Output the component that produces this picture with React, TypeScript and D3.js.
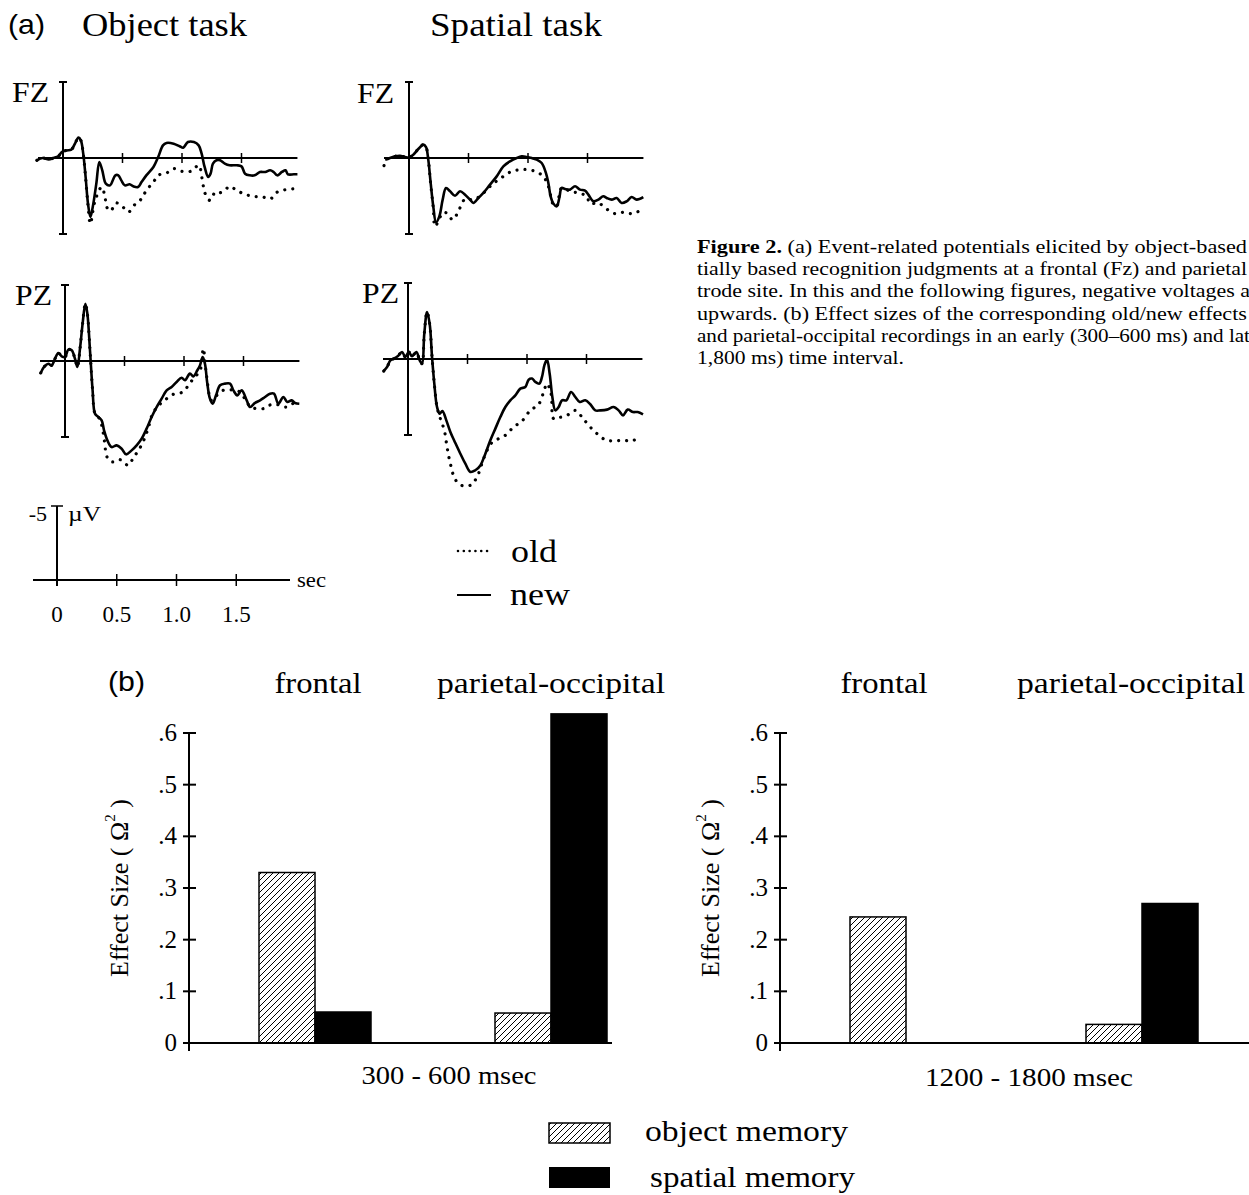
import React, { useEffect, useRef } from "react";
import * as d3 from "d3";

type Pt = [number, number]; // [time in s, voltage in µV] (negative plotted up)

// ---- (a) ERP traces ----
const objFzNew: Pt[] = [
  [-0.22, 0.15], [-0.17, 0], [-0.12, 0.09], [-0.08, 0], [-0.04, -0.11], [-0.01, -0.39], [0.03, -0.5],
  [0.07, -0.55], [0.1, -0.94], [0.13, -1.34], [0.15, -1.16], [0.17, -0.29], [0.19, 1.25], [0.21, 3.0],
  [0.23, 3.88], [0.25, 3.22], [0.28, 1.69], [0.305, 0.26], [0.33, 0.81], [0.36, 1.69], [0.395, 1.8],
  [0.44, 1.14], [0.465, 1.14], [0.49, 1.47], [0.52, 1.8], [0.56, 1.73], [0.59, 1.86], [0.63, 1.91],
  [0.66, 1.58], [0.7, 1.14], [0.76, 0.59], [0.8, -0.07], [0.84, -0.83], [0.87, -0.99], [0.93, -0.94],
  [0.98, -0.77], [1.01, -0.68], [1.05, -1.05], [1.1, -1.05], [1.14, -0.83], [1.165, -0.29], [1.19, 0.59],
  [1.22, 1.25], [1.24, 1.03], [1.26, 0.37], [1.29, 0.15], [1.32, 0.15], [1.36, 0.37], [1.4, 0.48],
  [1.46, 0.48], [1.5, 0.55], [1.53, 1.03], [1.57, 1.14], [1.61, 1.14], [1.655, 0.92], [1.7, 0.92],
  [1.74, 0.81], [1.77, 0.92], [1.8, 1.14], [1.84, 0.92], [1.87, 0.81], [1.89, 1.07], [1.94, 1.07], [1.97, 1.07],
];
const objFzOld: Pt[] = [
  [-0.22, 0.15], [-0.17, 0], [-0.12, 0.09], [-0.08, 0], [-0.04, -0.11], [-0.01, -0.39], [0.03, -0.5],
  [0.07, -0.55], [0.1, -0.94], [0.13, -1.34], [0.15, -1.16], [0.17, -0.29], [0.19, 1.3], [0.21, 3.1],
  [0.23, 4.32], [0.27, 2.79], [0.325, 1.91], [0.353, 2.57], [0.367, 3.22], [0.4, 3.49], [0.445, 2.96],
  [0.49, 3.11], [0.55, 3.55], [0.605, 3.05], [0.66, 2.68], [0.7, 2.13], [0.76, 1.58], [0.8, 1.14],
  [0.87, 0.99], [0.93, 0.7], [1.0, 0.88], [1.08, 0.86], [1.14, 0.48], [1.175, 1.69], [1.195, 2.35],
  [1.235, 2.79], [1.28, 2.24], [1.32, 2.28], [1.36, 2.13], [1.4, 1.86], [1.46, 2.13], [1.53, 2.39],
  [1.6, 2.52], [1.68, 2.57], [1.745, 2.68], [1.8, 2.24], [1.87, 2.08], [1.94, 2.02],
];
const spFzNew: Pt[] = [
  [-0.2, 0.11], [-0.16, 0], [-0.118, -0.11], [-0.076, -0.15], [-0.034, -0.07], [0, -0.04], [0.036, -0.22],
  [0.078, -0.59], [0.12, -0.88], [0.143, -0.72], [0.162, 0.11], [0.182, 1.64], [0.204, 3.18], [0.227, 4.23],
  [0.255, 3.84], [0.283, 2.74], [0.311, 1.97], [0.345, 2.19], [0.387, 2.48], [0.429, 2.19], [0.471, 2.41],
  [0.513, 2.74], [0.541, 2.96], [0.583, 2.63], [0.625, 2.3], [0.681, 1.75], [0.737, 1.21], [0.793, 0.55],
  [0.849, 0.22], [0.905, 0], [0.947, -0.11], [0.989, -0.07], [1.031, 0], [1.073, 0.11], [1.115, 0.33],
  [1.151, 0.99], [1.171, 1.64], [1.19, 2.52], [1.213, 3.0], [1.241, 3.18], [1.263, 2.63], [1.283, 1.97],
  [1.311, 2.04], [1.353, 2.08], [1.395, 1.86], [1.437, 2.08], [1.479, 2.15], [1.507, 2.41], [1.549, 2.85],
  [1.591, 2.74], [1.633, 2.52], [1.661, 2.63], [1.703, 2.74], [1.745, 2.63], [1.787, 2.96], [1.829, 2.85],
  [1.871, 2.57], [1.913, 2.74], [1.969, 2.57],
];
const spFzOld: Pt[] = [
  [-0.21, 0.5], [-0.18, 0.05], [-0.16, 0], [-0.118, -0.11], [-0.076, -0.15], [-0.034, -0.07], [0, -0.04],
  [0.036, -0.22], [0.078, -0.59], [0.12, -0.88], [0.143, -0.72], [0.162, 0.11], [0.182, 1.7], [0.204, 3.3],
  [0.218, 4.5], [0.25, 4.1], [0.283, 3.6], [0.317, 3.62], [0.367, 4.06], [0.406, 3.66], [0.471, 2.7],
  [0.527, 2.74], [0.597, 2.52], [0.667, 1.97], [0.723, 1.6], [0.793, 1.21], [0.863, 0.88], [0.933, 0.77],
  [1.003, 0.77], [1.073, 0.92], [1.129, 1.21], [1.171, 1.86], [1.213, 3.07], [1.241, 3.18], [1.283, 1.97],
  [1.353, 2.19], [1.423, 2.3], [1.493, 2.52], [1.521, 3.0], [1.591, 2.96], [1.661, 3.36], [1.731, 3.66],
  [1.801, 3.57], [1.88, 3.66], [1.955, 3.4],
];
const objPzNew: Pt[] = [
  [-0.204, 0.79], [-0.176, 0.39], [-0.14, 0.18], [-0.112, 0.29], [-0.084, -0.15], [-0.056, -0.53],
  [-0.028, -0.31], [0, -0.26], [0.028, -0.75], [0.056, -0.7], [0.084, -0.15], [0.104, 0.39], [0.126, -0.81],
  [0.148, -2.46], [0.171, -3.77], [0.188, -3.11], [0.21, -0.7], [0.232, 1.93], [0.252, 3.46], [0.28, 3.68],
  [0.308, 3.9], [0.328, 4.56], [0.356, 5.22], [0.392, 5.66], [0.434, 5.55], [0.476, 5.77], [0.513, 6.14],
  [0.56, 5.88], [0.602, 5.55], [0.644, 5.11], [0.686, 4.45], [0.728, 3.68], [0.77, 3.03], [0.812, 2.48],
  [0.854, 1.93], [0.896, 1.71], [0.938, 1.38], [0.98, 1.1], [1.008, 1.27], [1.05, 0.83], [1.078, 1.01],
  [1.112, 0.61], [1.134, 0.29], [1.157, -0.26], [1.176, 0.18], [1.196, 1.49], [1.218, 2.48], [1.241, 2.81],
  [1.269, 2.26], [1.303, 1.6], [1.345, 1.49], [1.387, 1.49], [1.415, 1.93], [1.448, 2.26], [1.485, 1.93],
  [1.527, 2.59], [1.555, 3.03], [1.597, 2.76], [1.639, 2.59], [1.681, 2.37], [1.723, 2.15], [1.756, 2.15],
  [1.793, 2.81], [1.835, 2.37], [1.868, 2.7], [1.905, 2.59], [1.933, 2.76], [1.969, 2.81],
];
const objPzOld: Pt[] = [
  [-0.204, 0.79], [-0.176, 0.39], [-0.14, 0.18], [-0.112, 0.29], [-0.084, -0.15], [-0.056, -0.53],
  [-0.028, -0.31], [0, -0.26], [0.028, -0.75], [0.056, -0.7], [0.084, -0.15], [0.104, 0.39], [0.126, -0.81],
  [0.148, -2.46], [0.171, -3.77], [0.188, -3.11], [0.21, -0.7], [0.232, 1.93], [0.252, 3.46], [0.28, 3.68],
  [0.308, 4.2], [0.33, 5.2], [0.356, 6.36], [0.398, 6.64], [0.462, 6.49], [0.532, 6.86], [0.574, 6.36],
  [0.62, 5.85], [0.664, 5.18], [0.7, 4.4], [0.737, 3.46], [0.79, 2.9], [0.854, 2.48], [0.91, 2.19],
  [0.99, 2.04], [1.056, 1.38], [1.106, 0.94], [1.14, 0.5], [1.162, -0.81], [1.19, 1.0], [1.23, 2.6],
  [1.27, 2.3], [1.33, 1.93], [1.4, 1.9], [1.47, 2.04], [1.52, 2.6], [1.563, 3.03], [1.664, 3.14],
  [1.72, 2.9], [1.784, 2.87], [1.857, 3.03], [1.91, 2.81], [1.97, 2.85],
];
const spPzNew: Pt[] = [
  [-0.204, 0.79], [-0.176, 0.53], [-0.148, 0.09], [-0.12, -0.02], [-0.087, -0.18], [-0.05, -0.46],
  [-0.022, -0.13], [0.006, -0.46], [0.034, -0.18], [0.07, -0.46], [0.098, 0.09], [0.118, 0.31], [0.137, -1.67],
  [0.16, -3.09], [0.182, -2.32], [0.202, -0.13], [0.221, 1.62], [0.244, 3.16], [0.266, 3.6], [0.289, 3.42],
  [0.322, 4.04], [0.356, 4.8], [0.398, 5.53], [0.44, 6.23], [0.482, 6.89], [0.524, 7.43], [0.566, 7.32],
  [0.608, 7.0], [0.65, 6.23], [0.692, 5.35], [0.734, 4.58], [0.776, 3.82], [0.818, 3.16], [0.86, 2.72],
  [0.902, 2.39], [0.944, 1.95], [0.986, 1.84], [1.014, 1.36], [1.042, 1.29], [1.07, 1.51], [1.104, 1.62],
  [1.126, 1.18], [1.146, 0.42], [1.168, 0.04], [1.191, 1.0], [1.213, 2.5], [1.238, 3.38], [1.266, 3.16],
  [1.294, 2.72], [1.331, 2.72], [1.37, 2.17], [1.406, 2.5], [1.443, 2.83], [1.49, 2.72], [1.532, 2.98],
  [1.574, 3.38], [1.616, 3.38], [1.672, 3.33], [1.728, 3.16], [1.77, 3.38], [1.807, 3.71], [1.846, 3.33],
  [1.891, 3.49], [1.93, 3.49], [1.975, 3.64],
];
const spPzOld: Pt[] = [
  [-0.204, 0.79], [-0.176, 0.53], [-0.148, 0.09], [-0.12, -0.02], [-0.087, -0.18], [-0.05, -0.46],
  [-0.022, -0.13], [0.006, -0.46], [0.034, -0.18], [0.07, -0.46], [0.098, 0.09], [0.118, 0.31], [0.137, -1.67],
  [0.16, -3.09], [0.182, -2.32], [0.202, -0.13], [0.221, 1.62], [0.244, 3.16], [0.272, 3.93], [0.305, 4.69],
  [0.328, 5.79], [0.356, 6.89], [0.398, 7.94], [0.454, 8.33], [0.529, 8.29], [0.58, 7.76], [0.641, 6.45],
  [0.697, 5.57], [0.762, 5.24], [0.818, 5.02], [0.888, 4.47], [0.958, 4.08], [1.028, 3.38], [1.098, 2.98],
  [1.14, 2.17], [1.168, 1.62], [1.202, 2.28], [1.224, 3.93], [1.266, 3.86], [1.336, 3.71], [1.406, 3.38],
  [1.462, 3.82], [1.518, 4.36], [1.588, 4.91], [1.658, 5.31], [1.728, 5.39], [1.807, 5.35], [1.874, 5.39],
  [1.952, 5.18],
];

const timeTicks = [0, 0.5, 1.0, 1.5];
const timeTickLabels = ["0", "0.5", "1.0", "1.5"];

// ---- (b) effect sizes ----
const barGroups = ["frontal", "parietal-occipital"];
const barSeries = ["object memory", "spatial memory"];
const earlyValues = [[0.33, 0.06], [0.058, 0.637]]; // 300 - 600 msec
const lateValues = [[0.244, 0], [0.036, 0.27]]; // 1200 - 1800 msec
const effectTicks = [0, 0.1, 0.2, 0.3, 0.4, 0.5, 0.6];
const effectTickLabels = ["0", ".1", ".2", ".3", ".4", ".5", ".6"];

const captionLines = [
  "(a) Event-related potentials elicited by object-based",
  "tially based recognition judgments at a frontal (Fz) and parietal",
  "trode site. In this and the following figures, negative voltages a",
  "upwards. (b) Effect sizes of the corresponding old/new effects",
  "and parietal-occipital recordings in an early (300\u2013600 ms) and lat",
  "1,800 ms) time interval.",
];

const SERIF = "'Liberation Serif', 'Times New Roman', serif";
const SANS = "'Liberation Sans', Arial, sans-serif";

function addText(g: any, x: number, y: number, s: string, size: number, opts: any = {}) {
  const t = g.append("text")
    .attr("x", x).attr("y", y)
    .attr("font-family", opts.family || SERIF)
    .attr("font-size", size)
    .attr("text-anchor", opts.anchor || "start")
    .attr("fill", "#000")
    .text(s);
  if (opts.width) t.attr("textLength", opts.width).attr("lengthAdjust", "spacingAndGlyphs");
  return t;
}

export default function App() {
  const ref = useRef<SVGSVGElement>(null);

  useEffect(() => {
    document.body.style.margin = "0";
    const svg = d3.select(ref.current);
    svg.selectAll("*").remove();

    const defs = svg.append("defs");
    const pat = defs.append("pattern").attr("id", "hatch")
      .attr("patternUnits", "userSpaceOnUse").attr("width", 6).attr("height", 6);
    pat.append("rect").attr("width", 6).attr("height", 6).attr("fill", "#fff");
    pat.append("path").attr("d", "M-1.5,1.5 L1.5,-1.5 M0,6 L6,0 M4.5,7.5 L7.5,4.5")
      .attr("stroke", "#000").attr("stroke-width", 1);

    // titles
    addText(svg, 8, 34, "(a)", 28, { family: SANS, width: 37 });
    addText(svg, 82, 36, "Object task", 34, { width: 165 });
    addText(svg, 430, 36, "Spatial task", 34, { width: 172 });

    // ERP panels
    const panels = [
      { label: "FZ", axisX: 63, base: 158, lx: 12, ly: 102, nw: objFzNew, od: objFzOld },
      { label: "FZ", axisX: 409, base: 158, lx: 357, ly: 103, nw: spFzNew, od: spFzOld },
      { label: "PZ", axisX: 65, base: 361, lx: 15, ly: 305, nw: objPzNew, od: objPzOld },
      { label: "PZ", axisX: 408, base: 359, lx: 362, ly: 303, nw: spPzNew, od: spPzOld },
    ];
    panels.forEach((p) => {
      const x = d3.scaleLinear().domain([0, 1]).range([p.axisX, p.axisX + 119]);
      const y = d3.scaleLinear().domain([-5, 5]).range([p.base - 76, p.base + 76]);
      const g = svg.append("g");
      g.append("line").attr("x1", x(-0.21)).attr("x2", x(1.97)).attr("y1", y(0)).attr("y2", y(0))
        .attr("stroke", "#000").attr("stroke-width", 2);
      timeTicks.slice(1).forEach((t) => {
        g.append("line").attr("x1", x(t)).attr("x2", x(t)).attr("y1", y(0) - 5).attr("y2", y(0) + 5)
          .attr("stroke", "#000").attr("stroke-width", 1.5);
      });
      g.append("line").attr("x1", x(0)).attr("x2", x(0)).attr("y1", y(-5)).attr("y2", y(5))
        .attr("stroke", "#000").attr("stroke-width", 2);
      [-5, 5].forEach((v) => {
        g.append("line").attr("x1", x(0) - 4).attr("x2", x(0) + 4).attr("y1", y(v)).attr("y2", y(v))
          .attr("stroke", "#000").attr("stroke-width", 2);
      });
      const line = d3.line<Pt>().x((d) => x(d[0])).y((d) => y(d[1])).curve(d3.curveCatmullRom.alpha(0.5));
      g.append("path").attr("d", line(p.od)).attr("fill", "none").attr("stroke", "#000")
        .attr("stroke-width", 3.2).attr("stroke-dasharray", "0.01 8").attr("stroke-linecap", "round");
      g.append("path").attr("d", line(p.nw)).attr("fill", "none").attr("stroke", "#000")
        .attr("stroke-width", 2.6).attr("stroke-linejoin", "round");
      addText(g, p.lx, p.ly, p.label, 30, { width: 37 });
    });

    // scale bar
    {
      const x = d3.scaleLinear().domain([0, 1]).range([57, 176.5]);
      const y = d3.scaleLinear().domain([-5, 0]).range([506, 580]);
      const g = svg.append("g");
      g.append("line").attr("x1", 33).attr("x2", 290).attr("y1", y(0)).attr("y2", y(0))
        .attr("stroke", "#000").attr("stroke-width", 2);
      g.append("line").attr("x1", x(0)).attr("x2", x(0)).attr("y1", y(-5)).attr("y2", y(0) + 6)
        .attr("stroke", "#000").attr("stroke-width", 2);
      g.append("line").attr("x1", x(0) - 6).attr("x2", x(0) + 6).attr("y1", y(-5)).attr("y2", y(-5))
        .attr("stroke", "#000").attr("stroke-width", 1.5);
      timeTicks.forEach((t, i) => {
        g.append("line").attr("x1", x(t)).attr("x2", x(t)).attr("y1", y(0) - 6).attr("y2", y(0) + 6)
          .attr("stroke", "#000").attr("stroke-width", 1.5);
        addText(g, x(t), 622, timeTickLabels[i], 23, { anchor: "middle" });
      });
      addText(g, 47, 521, "-5", 22, { anchor: "end" });
      addText(g, 68, 521, "\u00b5V", 22, { width: 33 });
      addText(g, 297, 587, "sec", 21, { width: 29 });
    }

    // ERP legend
    svg.append("line").attr("x1", 458).attr("x2", 490).attr("y1", 551).attr("y2", 551)
      .attr("stroke", "#000").attr("stroke-width", 2.6).attr("stroke-dasharray", "0.01 5.8")
      .attr("stroke-linecap", "round");
    addText(svg, 511, 562, "old", 31, { width: 46 });
    svg.append("line").attr("x1", 457).attr("x2", 491).attr("y1", 595).attr("y2", 595)
      .attr("stroke", "#000").attr("stroke-width", 2.2);
    addText(svg, 510, 605, "new", 31, { width: 60 });

    // caption
    captionLines.forEach((s, i) => {
      const t = svg.append("text").attr("x", 697).attr("y", 253 + i * 22.2)
        .attr("font-family", SERIF).attr("font-size", 18.5).attr("fill", "#000");
      if (i === 0) {
        t.append("tspan").attr("font-weight", "bold").text("Figure 2.");
        t.append("tspan").text(" " + s);
      } else {
        t.text(s);
      }
      t.attr("textLength", i === 5 ? 207 : i === 2 || i === 4 ? 553 : 550).attr("lengthAdjust", "spacingAndGlyphs");
    });

    // (b) bar charts
    addText(svg, 108, 691, "(b)", 28, { family: SANS, width: 37 });
    const charts = [
      { axisX: 189, axisEnd: 612, values: earlyValues, label: "300 - 600 msec", labelX: 449, labelY: 1084, labelW: 175,
        headX: [318, 551] },
      { axisX: 780, axisEnd: 1249, values: lateValues, label: "1200 - 1800 msec", labelX: 1029, labelY: 1086, labelW: 208,
        headX: [884, 1131] },
    ];
    const headW = [87, 228];
    charts.forEach((c) => {
      const g = svg.append("g");
      const y = d3.scaleLinear().domain([0, 0.6]).range([1043, 733]);
      const step = 236, bw = 112, off = 70;
      const pi = 1 - bw / step;
      const po = off / step;
      const w = step * (barGroups.length - pi + 2 * po);
      const x0 = d3.scaleBand().domain(barGroups).range([c.axisX, c.axisX + w]).paddingInner(pi).paddingOuter(po);
      const x1 = d3.scaleBand().domain(barSeries).range([0, x0.bandwidth()]);

      barGroups.forEach((grp, gi) => {
        barSeries.forEach((ser, si) => {
          const v = c.values[gi][si];
          if (v <= 0) return;
          g.append("rect")
            .attr("x", (x0(grp) as number) + (x1(ser) as number))
            .attr("y", y(v))
            .attr("width", x1.bandwidth())
            .attr("height", y(0) - y(v))
            .attr("fill", si === 0 ? "url(#hatch)" : "#000")
            .attr("stroke", "#000").attr("stroke-width", 1.5);
        });
      });

      g.append("line").attr("x1", c.axisX).attr("x2", c.axisEnd).attr("y1", y(0)).attr("y2", y(0))
        .attr("stroke", "#000").attr("stroke-width", 2);
      g.append("line").attr("x1", c.axisX).attr("x2", c.axisX).attr("y1", y(0.6)).attr("y2", y(0) + 8)
        .attr("stroke", "#000").attr("stroke-width", 2);
      effectTicks.forEach((t, i) => {
        g.append("line").attr("x1", c.axisX - 6).attr("x2", c.axisX + 7).attr("y1", y(t)).attr("y2", y(t))
          .attr("stroke", "#000").attr("stroke-width", 2);
        addText(g, c.axisX - 12, y(t) + 8, effectTickLabels[i], 25, { anchor: "end" });
      });

      const yl = g.append("text")
        .attr("transform", `translate(${c.axisX - 61},888) rotate(-90)`)
        .attr("text-anchor", "middle").attr("font-family", SERIF).attr("font-size", 26).attr("fill", "#000");
      yl.append("tspan").text("Effect Size ( \u03a9");
      yl.append("tspan").attr("font-size", 15).attr("dy", -13).text("2");
      yl.append("tspan").attr("dy", 13).text(" )");

      addText(g, c.labelX, c.labelY, c.label, 25, { anchor: "middle", width: c.labelW });
      barGroups.forEach((grp, gi) => {
        addText(g, c.headX[gi], 693, grp, 30, { anchor: "middle", width: headW[gi] });
      });
    });

    // bar legend
    svg.append("rect").attr("x", 549).attr("y", 1123).attr("width", 61).attr("height", 20)
      .attr("fill", "url(#hatch)").attr("stroke", "#000").attr("stroke-width", 1.5);
    addText(svg, 645, 1141, barSeries[0], 29, { width: 203 });
    svg.append("rect").attr("x", 549).attr("y", 1167).attr("width", 61).attr("height", 21)
      .attr("fill", "#000");
    addText(svg, 650, 1187, barSeries[1], 29, { width: 205 });
  }, []);

  return (
    <div>
      <svg ref={ref} width={1249} height={1195} style={{ display: "block", background: "#fff" }}></svg>
    </div>
  );
}
